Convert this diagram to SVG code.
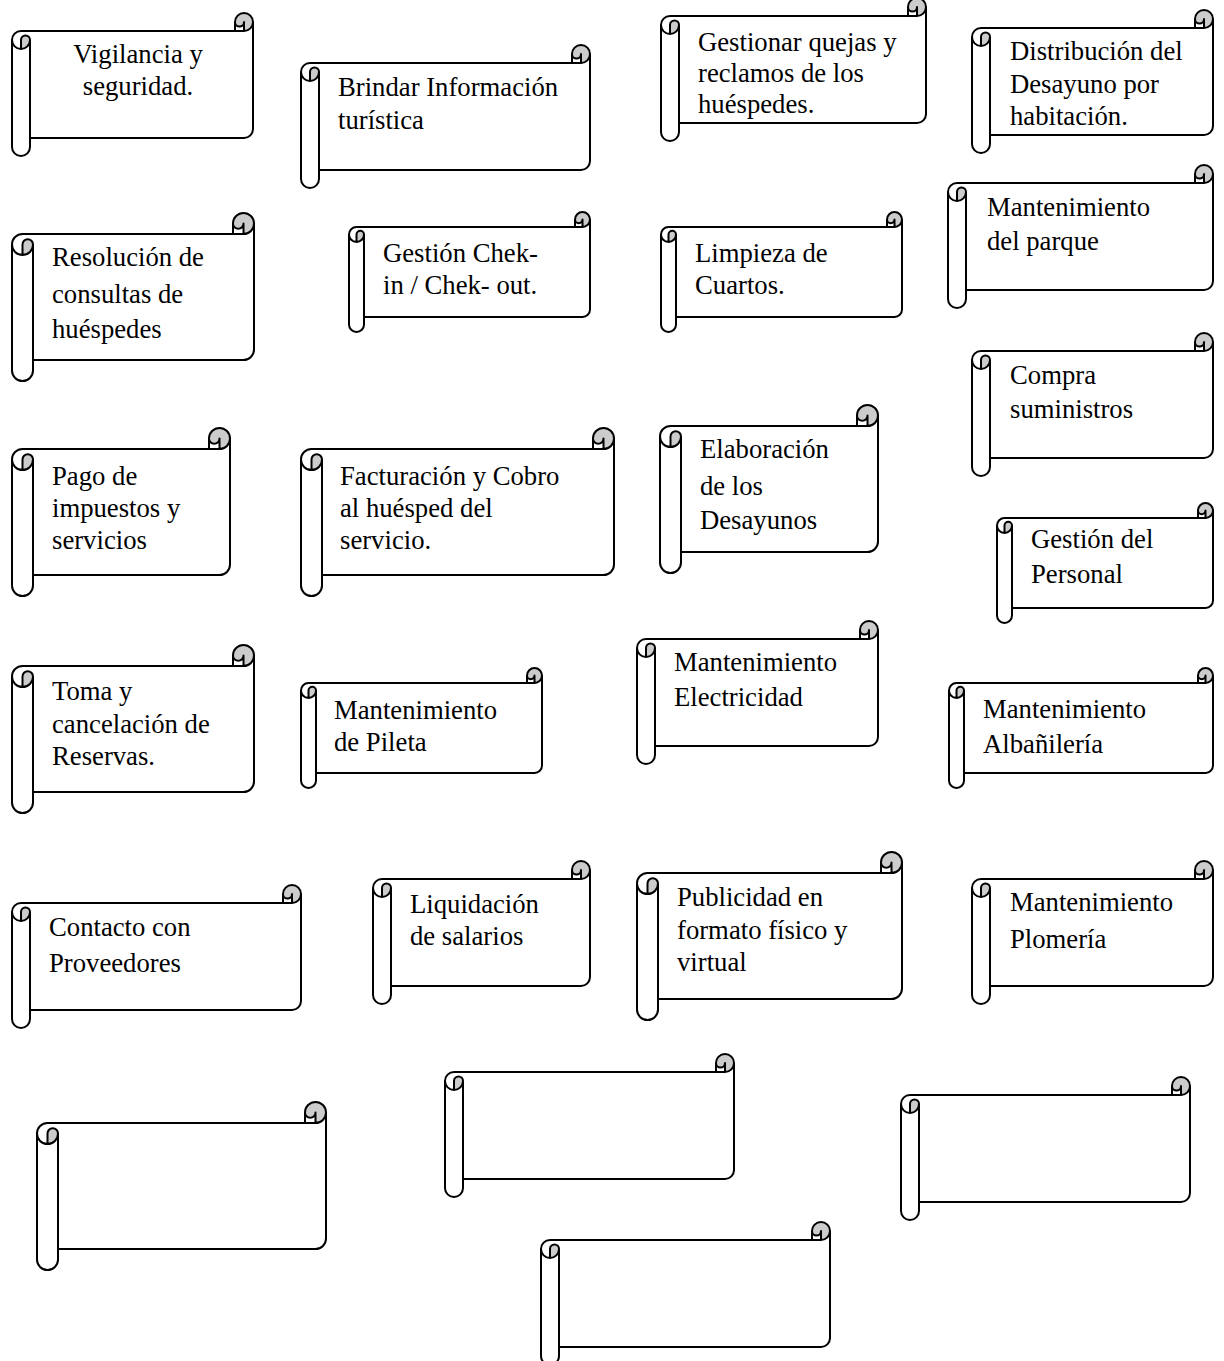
<svg xmlns="http://www.w3.org/2000/svg" xmlns:xlink="http://www.w3.org/1999/xlink" width="1224" height="1361" viewBox="0 0 1224 1361">
<style>
.f{fill:#fff;stroke:none}
.g{fill:#cccccc;stroke:none}
.s{fill:none;stroke:#000;stroke-width:2;stroke-linejoin:round;stroke-linecap:round}
text{font-family:"Liberation Serif","Times New Roman",serif;font-size:26.7px;fill:#000}
</style>
<defs>
<g id="s241x143">
<path class="f" d="M241,9 A9 9 0 0 1 232,18 L232,9 A4.5 4.5 0 0 1 223,9 L223,18 L9,18 A9 9 0 0 0 0,27 L0,134 A9 9 0 0 0 18,134 L18,125 L232,125 A9 9 0 0 0 241,116 Z"/>
<path class="g" d="M9,36 A9 9 0 0 0 18,27 A4.5 4.5 0 0 0 9,27 Z"/>
<circle class="g" cx="232" cy="9" r="9"/>
<path class="f" d="M232,18 L232,9 A4.5 4.5 0 0 1 223,9 L223,18 Z"/>
<path class="s" d="M0,27 A9 9 0 0 1 9,18 L223,18 L223,9 A9 9 0 0 1 241,9 L241,116 A9 9 0 0 1 232,125 L18,125 L18,134 A9 9 0 0 1 0,134 Z M223,18 L232,18 A9 9 0 0 0 241,9 M232,18 L232,9 A4.5 4.5 0 0 1 223,9 M9,36 L9,27 A4.5 4.5 0 0 1 18,27 A9 9 0 0 1 0,27 M18,27 L18,125"/>
</g>
<g id="s289x143">
<path class="f" d="M289,9 A9 9 0 0 1 280,18 L280,9 A4.5 4.5 0 0 1 271,9 L271,18 L9,18 A9 9 0 0 0 0,27 L0,134 A9 9 0 0 0 18,134 L18,125 L280,125 A9 9 0 0 0 289,116 Z"/>
<path class="g" d="M9,36 A9 9 0 0 0 18,27 A4.5 4.5 0 0 0 9,27 Z"/>
<circle class="g" cx="280" cy="9" r="9"/>
<path class="f" d="M280,18 L280,9 A4.5 4.5 0 0 1 271,9 L271,18 Z"/>
<path class="s" d="M0,27 A9 9 0 0 1 9,18 L271,18 L271,9 A9 9 0 0 1 289,9 L289,116 A9 9 0 0 1 280,125 L18,125 L18,134 A9 9 0 0 1 0,134 Z M271,18 L280,18 A9 9 0 0 0 289,9 M280,18 L280,9 A4.5 4.5 0 0 1 271,9 M9,36 L9,27 A4.5 4.5 0 0 1 18,27 A9 9 0 0 1 0,27 M18,27 L18,125"/>
</g>
<g id="s265x143">
<path class="f" d="M265,9 A9 9 0 0 1 256,18 L256,9 A4.5 4.5 0 0 1 247,9 L247,18 L9,18 A9 9 0 0 0 0,27 L0,134 A9 9 0 0 0 18,134 L18,125 L256,125 A9 9 0 0 0 265,116 Z"/>
<path class="g" d="M9,36 A9 9 0 0 0 18,27 A4.5 4.5 0 0 0 9,27 Z"/>
<circle class="g" cx="256" cy="9" r="9"/>
<path class="f" d="M256,18 L256,9 A4.5 4.5 0 0 1 247,9 L247,18 Z"/>
<path class="s" d="M0,27 A9 9 0 0 1 9,18 L247,18 L247,9 A9 9 0 0 1 265,9 L265,116 A9 9 0 0 1 256,125 L18,125 L18,134 A9 9 0 0 1 0,134 Z M247,18 L256,18 A9 9 0 0 0 265,9 M256,18 L256,9 A4.5 4.5 0 0 1 247,9 M9,36 L9,27 A4.5 4.5 0 0 1 18,27 A9 9 0 0 1 0,27 M18,27 L18,125"/>
</g>
<g id="s217x143">
<path class="f" d="M217,9 A9 9 0 0 1 208,18 L208,9 A4.5 4.5 0 0 1 199,9 L199,18 L9,18 A9 9 0 0 0 0,27 L0,134 A9 9 0 0 0 18,134 L18,125 L208,125 A9 9 0 0 0 217,116 Z"/>
<path class="g" d="M9,36 A9 9 0 0 0 18,27 A4.5 4.5 0 0 0 9,27 Z"/>
<circle class="g" cx="208" cy="9" r="9"/>
<path class="f" d="M208,18 L208,9 A4.5 4.5 0 0 1 199,9 L199,18 Z"/>
<path class="s" d="M0,27 A9 9 0 0 1 9,18 L199,18 L199,9 A9 9 0 0 1 217,9 L217,116 A9 9 0 0 1 208,125 L18,125 L18,134 A9 9 0 0 1 0,134 Z M199,18 L208,18 A9 9 0 0 0 217,9 M208,18 L208,9 A4.5 4.5 0 0 1 199,9 M9,36 L9,27 A4.5 4.5 0 0 1 18,27 A9 9 0 0 1 0,27 M18,27 L18,125"/>
</g>
<g id="s242x168">
<path class="f" d="M242,10.5 A10.5 10.5 0 0 1 231.5,21 L231.5,10.5 A5.25 5.25 0 0 1 221,10.5 L221,21 L10.5,21 A10.5 10.5 0 0 0 0,31.5 L0,157.5 A10.5 10.5 0 0 0 21,157.5 L21,147 L231.5,147 A10.5 10.5 0 0 0 242,136.5 Z"/>
<path class="g" d="M10.5,42 A10.5 10.5 0 0 0 21,31.5 A5.25 5.25 0 0 0 10.5,31.5 Z"/>
<circle class="g" cx="231.5" cy="10.5" r="10.5"/>
<path class="f" d="M231.5,21 L231.5,10.5 A5.25 5.25 0 0 1 221,10.5 L221,21 Z"/>
<path class="s" d="M0,31.5 A10.5 10.5 0 0 1 10.5,21 L221,21 L221,10.5 A10.5 10.5 0 0 1 242,10.5 L242,136.5 A10.5 10.5 0 0 1 231.5,147 L21,147 L21,157.5 A10.5 10.5 0 0 1 0,157.5 Z M221,21 L231.5,21 A10.5 10.5 0 0 0 242,10.5 M231.5,21 L231.5,10.5 A5.25 5.25 0 0 1 221,10.5 M10.5,42 L10.5,31.5 A5.25 5.25 0 0 1 21,31.5 A10.5 10.5 0 0 1 0,31.5 M21,31.5 L21,147"/>
</g>
<g id="s218x168">
<path class="f" d="M218,10.5 A10.5 10.5 0 0 1 207.5,21 L207.5,10.5 A5.25 5.25 0 0 1 197,10.5 L197,21 L10.5,21 A10.5 10.5 0 0 0 0,31.5 L0,157.5 A10.5 10.5 0 0 0 21,157.5 L21,147 L207.5,147 A10.5 10.5 0 0 0 218,136.5 Z"/>
<path class="g" d="M10.5,42 A10.5 10.5 0 0 0 21,31.5 A5.25 5.25 0 0 0 10.5,31.5 Z"/>
<circle class="g" cx="207.5" cy="10.5" r="10.5"/>
<path class="f" d="M207.5,21 L207.5,10.5 A5.25 5.25 0 0 1 197,10.5 L197,21 Z"/>
<path class="s" d="M0,31.5 A10.5 10.5 0 0 1 10.5,21 L197,21 L197,10.5 A10.5 10.5 0 0 1 218,10.5 L218,136.5 A10.5 10.5 0 0 1 207.5,147 L21,147 L21,157.5 A10.5 10.5 0 0 1 0,157.5 Z M197,21 L207.5,21 A10.5 10.5 0 0 0 218,10.5 M207.5,21 L207.5,10.5 A5.25 5.25 0 0 1 197,10.5 M10.5,42 L10.5,31.5 A5.25 5.25 0 0 1 21,31.5 A10.5 10.5 0 0 1 0,31.5 M21,31.5 L21,147"/>
</g>
<g id="s313x168">
<path class="f" d="M313,10.5 A10.5 10.5 0 0 1 302.5,21 L302.5,10.5 A5.25 5.25 0 0 1 292,10.5 L292,21 L10.5,21 A10.5 10.5 0 0 0 0,31.5 L0,157.5 A10.5 10.5 0 0 0 21,157.5 L21,147 L302.5,147 A10.5 10.5 0 0 0 313,136.5 Z"/>
<path class="g" d="M10.5,42 A10.5 10.5 0 0 0 21,31.5 A5.25 5.25 0 0 0 10.5,31.5 Z"/>
<circle class="g" cx="302.5" cy="10.5" r="10.5"/>
<path class="f" d="M302.5,21 L302.5,10.5 A5.25 5.25 0 0 1 292,10.5 L292,21 Z"/>
<path class="s" d="M0,31.5 A10.5 10.5 0 0 1 10.5,21 L292,21 L292,10.5 A10.5 10.5 0 0 1 313,10.5 L313,136.5 A10.5 10.5 0 0 1 302.5,147 L21,147 L21,157.5 A10.5 10.5 0 0 1 0,157.5 Z M292,21 L302.5,21 A10.5 10.5 0 0 0 313,10.5 M302.5,21 L302.5,10.5 A5.25 5.25 0 0 1 292,10.5 M10.5,42 L10.5,31.5 A5.25 5.25 0 0 1 21,31.5 A10.5 10.5 0 0 1 0,31.5 M21,31.5 L21,147"/>
</g>
<g id="s265x168">
<path class="f" d="M265,10.5 A10.5 10.5 0 0 1 254.5,21 L254.5,10.5 A5.25 5.25 0 0 1 244,10.5 L244,21 L10.5,21 A10.5 10.5 0 0 0 0,31.5 L0,157.5 A10.5 10.5 0 0 0 21,157.5 L21,147 L254.5,147 A10.5 10.5 0 0 0 265,136.5 Z"/>
<path class="g" d="M10.5,42 A10.5 10.5 0 0 0 21,31.5 A5.25 5.25 0 0 0 10.5,31.5 Z"/>
<circle class="g" cx="254.5" cy="10.5" r="10.5"/>
<path class="f" d="M254.5,21 L254.5,10.5 A5.25 5.25 0 0 1 244,10.5 L244,21 Z"/>
<path class="s" d="M0,31.5 A10.5 10.5 0 0 1 10.5,21 L244,21 L244,10.5 A10.5 10.5 0 0 1 265,10.5 L265,136.5 A10.5 10.5 0 0 1 254.5,147 L21,147 L21,157.5 A10.5 10.5 0 0 1 0,157.5 Z M244,21 L254.5,21 A10.5 10.5 0 0 0 265,10.5 M254.5,21 L254.5,10.5 A5.25 5.25 0 0 1 244,10.5 M10.5,42 L10.5,31.5 A5.25 5.25 0 0 1 21,31.5 A10.5 10.5 0 0 1 0,31.5 M21,31.5 L21,147"/>
</g>
<g id="s289x168">
<path class="f" d="M289,10.5 A10.5 10.5 0 0 1 278.5,21 L278.5,10.5 A5.25 5.25 0 0 1 268,10.5 L268,21 L10.5,21 A10.5 10.5 0 0 0 0,31.5 L0,157.5 A10.5 10.5 0 0 0 21,157.5 L21,147 L278.5,147 A10.5 10.5 0 0 0 289,136.5 Z"/>
<path class="g" d="M10.5,42 A10.5 10.5 0 0 0 21,31.5 A5.25 5.25 0 0 0 10.5,31.5 Z"/>
<circle class="g" cx="278.5" cy="10.5" r="10.5"/>
<path class="f" d="M278.5,21 L278.5,10.5 A5.25 5.25 0 0 1 268,10.5 L268,21 Z"/>
<path class="s" d="M0,31.5 A10.5 10.5 0 0 1 10.5,21 L268,21 L268,10.5 A10.5 10.5 0 0 1 289,10.5 L289,136.5 A10.5 10.5 0 0 1 278.5,147 L21,147 L21,157.5 A10.5 10.5 0 0 1 0,157.5 Z M268,21 L278.5,21 A10.5 10.5 0 0 0 289,10.5 M278.5,21 L278.5,10.5 A5.25 5.25 0 0 1 268,10.5 M10.5,42 L10.5,31.5 A5.25 5.25 0 0 1 21,31.5 A10.5 10.5 0 0 1 0,31.5 M21,31.5 L21,147"/>
</g>
<g id="s241x120">
<path class="f" d="M241,7.5 A7.5 7.5 0 0 1 233.5,15 L233.5,7.5 A3.75 3.75 0 0 1 226,7.5 L226,15 L7.5,15 A7.5 7.5 0 0 0 0,22.5 L0,112.5 A7.5 7.5 0 0 0 15,112.5 L15,105 L233.5,105 A7.5 7.5 0 0 0 241,97.5 Z"/>
<path class="g" d="M7.5,30 A7.5 7.5 0 0 0 15,22.5 A3.75 3.75 0 0 0 7.5,22.5 Z"/>
<circle class="g" cx="233.5" cy="7.5" r="7.5"/>
<path class="f" d="M233.5,15 L233.5,7.5 A3.75 3.75 0 0 1 226,7.5 L226,15 Z"/>
<path class="s" d="M0,22.5 A7.5 7.5 0 0 1 7.5,15 L226,15 L226,7.5 A7.5 7.5 0 0 1 241,7.5 L241,97.5 A7.5 7.5 0 0 1 233.5,105 L15,105 L15,112.5 A7.5 7.5 0 0 1 0,112.5 Z M226,15 L233.5,15 A7.5 7.5 0 0 0 241,7.5 M233.5,15 L233.5,7.5 A3.75 3.75 0 0 1 226,7.5 M7.5,30 L7.5,22.5 A3.75 3.75 0 0 1 15,22.5 A7.5 7.5 0 0 1 0,22.5 M15,22.5 L15,105"/>
</g>
<g id="s216x120">
<path class="f" d="M216,7.5 A7.5 7.5 0 0 1 208.5,15 L208.5,7.5 A3.75 3.75 0 0 1 201,7.5 L201,15 L7.5,15 A7.5 7.5 0 0 0 0,22.5 L0,112.5 A7.5 7.5 0 0 0 15,112.5 L15,105 L208.5,105 A7.5 7.5 0 0 0 216,97.5 Z"/>
<path class="g" d="M7.5,30 A7.5 7.5 0 0 0 15,22.5 A3.75 3.75 0 0 0 7.5,22.5 Z"/>
<circle class="g" cx="208.5" cy="7.5" r="7.5"/>
<path class="f" d="M208.5,15 L208.5,7.5 A3.75 3.75 0 0 1 201,7.5 L201,15 Z"/>
<path class="s" d="M0,22.5 A7.5 7.5 0 0 1 7.5,15 L201,15 L201,7.5 A7.5 7.5 0 0 1 216,7.5 L216,97.5 A7.5 7.5 0 0 1 208.5,105 L15,105 L15,112.5 A7.5 7.5 0 0 1 0,112.5 Z M201,15 L208.5,15 A7.5 7.5 0 0 0 216,7.5 M208.5,15 L208.5,7.5 A3.75 3.75 0 0 1 201,7.5 M7.5,30 L7.5,22.5 A3.75 3.75 0 0 1 15,22.5 A7.5 7.5 0 0 1 0,22.5 M15,22.5 L15,105"/>
</g>
<g id="s264x120">
<path class="f" d="M264,7.5 A7.5 7.5 0 0 1 256.5,15 L256.5,7.5 A3.75 3.75 0 0 1 249,7.5 L249,15 L7.5,15 A7.5 7.5 0 0 0 0,22.5 L0,112.5 A7.5 7.5 0 0 0 15,112.5 L15,105 L256.5,105 A7.5 7.5 0 0 0 264,97.5 Z"/>
<path class="g" d="M7.5,30 A7.5 7.5 0 0 0 15,22.5 A3.75 3.75 0 0 0 7.5,22.5 Z"/>
<circle class="g" cx="256.5" cy="7.5" r="7.5"/>
<path class="f" d="M256.5,15 L256.5,7.5 A3.75 3.75 0 0 1 249,7.5 L249,15 Z"/>
<path class="s" d="M0,22.5 A7.5 7.5 0 0 1 7.5,15 L249,15 L249,7.5 A7.5 7.5 0 0 1 264,7.5 L264,97.5 A7.5 7.5 0 0 1 256.5,105 L15,105 L15,112.5 A7.5 7.5 0 0 1 0,112.5 Z M249,15 L256.5,15 A7.5 7.5 0 0 0 264,7.5 M256.5,15 L256.5,7.5 A3.75 3.75 0 0 1 249,7.5 M7.5,30 L7.5,22.5 A3.75 3.75 0 0 1 15,22.5 A7.5 7.5 0 0 1 0,22.5 M15,22.5 L15,105"/>
</g>
</defs>
<rect width="1224" height="1361" fill="#fff"/>
<g id="connectors"/>

<g id="vigilancia"><use href="#s241x143" x="12" y="13"/>
<text x="138" y="63" text-anchor="middle">Vigilancia y</text><text x="138" y="95" text-anchor="middle">seguridad.</text></g>

<g id="brindar"><use href="#s289x143" x="301" y="45"/>
<text x="338" y="96">Brindar Información</text><text x="338" y="129">turística</text></g>

<g id="gestionar-quejas"><use href="#s265x143" x="661" y="-2"/>
<text x="698" y="51">Gestionar quejas y</text><text x="698" y="82">reclamos de los</text><text x="698" y="113">huéspedes.</text></g>

<g id="distribucion"><use href="#s241x143" x="972" y="10"/>
<text x="1010" y="60">Distribución del</text><text x="1010" y="93">Desayuno por</text><text x="1010" y="125">habitación.</text></g>

<g id="resolucion"><use href="#s242x168" x="12" y="213"/>
<text x="52" y="266">Resolución de</text><text x="52" y="303">consultas de</text><text x="52" y="338">huéspedes</text></g>

<g id="checkin"><use href="#s241x120" x="349" y="212"/>
<text x="383" y="262">Gestión Chek-</text><text x="383" y="294">in / Chek- out.</text></g>

<g id="limpieza"><use href="#s241x120" x="661" y="212"/>
<text x="695" y="262">Limpieza de</text><text x="695" y="294">Cuartos.</text></g>

<g id="mant-parque"><use href="#s265x143" x="948" y="165"/>
<text x="987" y="216">Mantenimiento</text><text x="987" y="250">del parque</text></g>

<g id="compra"><use href="#s241x143" x="972" y="333"/>
<text x="1010" y="384">Compra</text><text x="1010" y="418">suministros</text></g>

<g id="pago"><use href="#s218x168" x="12" y="428"/>
<text x="52" y="485">Pago de</text><text x="52" y="517">impuestos y</text><text x="52" y="549">servicios</text></g>

<g id="facturacion"><use href="#s313x168" x="301" y="428"/>
<text x="340" y="485">Facturación y Cobro</text><text x="340" y="517">al huésped del</text><text x="340" y="549">servicio.</text></g>

<g id="elaboracion"><use href="#s218x168" x="660" y="405"/>
<text x="700" y="458">Elaboración</text><text x="700" y="495">de los</text><text x="700" y="529">Desayunos</text></g>

<g id="personal"><use href="#s216x120" x="997" y="503"/>
<text x="1031" y="548">Gestión del</text><text x="1031" y="583">Personal</text></g>

<g id="reservas"><use href="#s242x168" x="12" y="645"/>
<text x="52" y="700">Toma y</text><text x="52" y="733">cancelación de</text><text x="52" y="765">Reservas.</text></g>

<g id="pileta"><use href="#s241x120" x="301" y="668"/>
<text x="334" y="719">Mantenimiento</text><text x="334" y="751">de Pileta</text></g>

<g id="electricidad"><use href="#s241x143" x="637" y="621"/>
<text x="674" y="671">Mantenimiento</text><text x="674" y="706">Electricidad</text></g>

<g id="albanileria"><use href="#s264x120" x="949" y="668"/>
<text x="983" y="718">Mantenimiento</text><text x="983" y="753">Albañilería</text></g>

<g id="proveedores"><use href="#s289x143" x="12" y="885"/>
<text x="49" y="936">Contacto con</text><text x="49" y="972">Proveedores</text></g>

<g id="salarios"><use href="#s217x143" x="373" y="861"/>
<text x="410" y="913">Liquidación</text><text x="410" y="945">de salarios</text></g>

<g id="publicidad"><use href="#s265x168" x="637" y="852"/>
<text x="677" y="906">Publicidad en</text><text x="677" y="939">formato físico y</text><text x="677" y="971">virtual</text></g>

<g id="plomeria"><use href="#s241x143" x="972" y="861"/>
<text x="1010" y="911">Mantenimiento</text><text x="1010" y="948">Plomería</text></g>

<g id="blank-1"><use href="#s289x168" x="37" y="1102"/></g>
<g id="blank-2"><use href="#s289x143" x="445" y="1054"/></g>
<g id="blank-3"><use href="#s289x143" x="901" y="1077"/></g>
<g id="blank-4"><use href="#s289x143" x="541" y="1222"/></g>
</svg>
